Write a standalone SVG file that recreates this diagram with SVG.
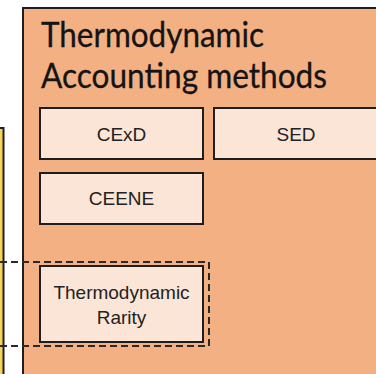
<svg xmlns="http://www.w3.org/2000/svg" width="376" height="374" viewBox="0 0 376 374">
<style>
.box{fill:#FBE5D6;stroke:#1E1E1E;stroke-width:2}
.lbl{font-family:"Liberation Sans",Arial,sans-serif;font-size:19px;fill:#222222;text-anchor:middle}
.ttl{font-family:Lato,"Open Sans",sans-serif;font-size:34px;fill:#141414;stroke:#141414;stroke-width:0.3}
.dash{stroke:#2A2A2A;stroke-width:2;stroke-dasharray:7 4;fill:none}
</style>
<rect x="0" y="0" width="376" height="374" fill="#FFFFFF"/>
<g id="yellow-group">
<rect x="-10" y="128" width="13.5" height="260" fill="#F8D55A" stroke="#1E1E1E" stroke-width="2"/>
</g>
<g id="thermodynamic-accounting-methods">
<rect x="23" y="8" width="370" height="380" fill="#F3B083" stroke="#1E1E1E" stroke-width="2"/>
<text class="ttl" x="41" y="47" textLength="223" lengthAdjust="spacingAndGlyphs">Thermodynamic</text>
<text class="ttl" x="41" y="88" textLength="286" lengthAdjust="spacingAndGlyphs">Accounting methods</text>
</g>
<g id="cexd">
<rect class="box" x="40" y="108" width="163" height="51"/>
<text class="lbl" x="121.5" y="141">CExD</text>
</g>
<g id="sed">
<rect class="box" x="214" y="108" width="170" height="51"/>
<text class="lbl" x="296" y="141">SED</text>
</g>
<g id="ceene">
<rect class="box" x="40" y="173" width="163" height="51"/>
<text class="lbl" x="121.5" y="205">CEENE</text>
</g>
<g id="thermodynamic-rarity">
<rect class="box" x="40" y="266" width="163" height="76"/>
<text class="lbl" x="121.5" y="299">Thermodynamic</text>
<text class="lbl" x="121.5" y="324">Rarity</text>
</g>
<g id="connectors">
<path class="dash" d="M0 262 H209 V346 H0"/>
</g>
</svg>
